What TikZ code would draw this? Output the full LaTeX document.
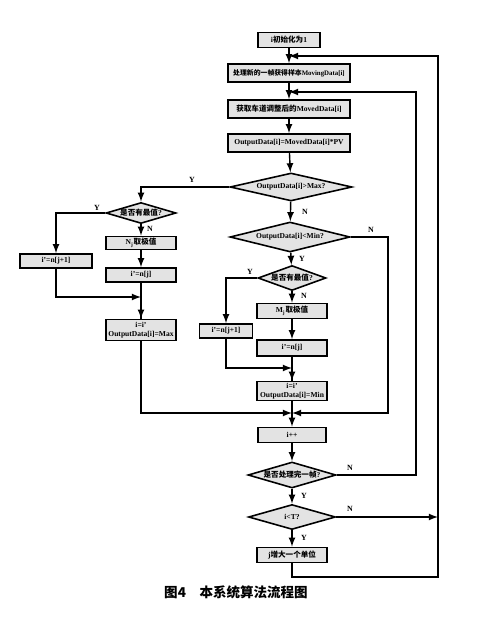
\documentclass[tikz,border=0pt]{standalone}
\usepackage{fontspec}
\setmainfont{Liberation Serif}
\newfontfamily\cjk{Noto Sans CJK SC}
\usetikzlibrary{arrows,shapes.geometric,positioning,calc}

\begin{document}
\begin{tikzpicture}[x=0.02cm,y=-0.02cm,>=latex]
	\tikzset{
		box/.style 2 args={
				draw,
				line width=0.9pt,
				fill=gray!22,
				inner sep=0pt,
				align=center,
				font=\fontsize{4.3}{4.8}\selectfont\bfseries,
				minimum width=#1*0.02cm,
				minimum height=#2*0.02cm
			},
		decision/.style 2 args={
				box={#1}{#2},
				diamond,
				/utils/exec={\pgfmathsetmacro\dmaspect{#1/#2}},
				shape aspect=\dmaspect
			},
		lbl/.style={font=\fontsize{4.5}{5}\selectfont\bfseries, inner sep=0pt},
		flow/.style={line width=0.8pt}
	}
	\useasboundingbox (0,0) rectangle (502,621);
	\node[box={62}{15}] (init) at (289,40) {i{\cjk 初始化为}1};
	\node[box={122}{18},font=\fontsize{3.9}{4.4}\selectfont\bfseries] (move) at (289,73) {{\cjk 处理新的一帧获得样本}MovingData[i]};
	\node[box={122}{18}] (moved) at (289,109) {{\cjk 获取车道调整后的}MovedData[i]};
	\node[box={122}{18}] (out) at (289,143) {OutputData[i]=MovedData[i]*PV};
	\node[decision={122}{28}] (dmax) at (291,187) {OutputData[i]>Max?};
	\node[decision={120}{30}] (dmin) at (290,237) {OutputData[i]<Min?};
	\node[decision={70}{21}] (lq) at (141,213) {{\cjk 是否有最值}?};
	\node[box={70}{13}] (lnj) at (141,243) {N\textsubscript{j}{\cjk 取极值}};
	\node[box={72}{14}] (lj1) at (56,261) {i'=n[j+1]};
	\node[box={70}{14}] (lj) at (141,275) {i'=n[j]};
	\node[box={70}{21}] (lmax) at (141,330) {i=i'\\OutputData[i]=Max};
	\node[decision={68}{25}] (mq) at (292,278) {{\cjk 是否有最值}?};
	\node[box={70}{15}] (mmj) at (292,311) {M\textsubscript{j}{\cjk 取极值}};
	\node[box={53}{14}] (mj1) at (226,331) {i'=n[j+1]};
	\node[box={70}{16}] (mj) at (292,348) {i'=n[j]};
	\node[box={70}{19}] (mmin) at (292,391) {i=i'\\OutputData[i]=Min};
	\node[box={68}{15}] (inc) at (292,435) {i++};
	\node[decision={88}{26}] (dfr) at (292,475) {{\cjk 是否处理完一帧}?};
	\node[decision={87}{25}] (dT) at (292,517) {i<T?};
	\node[box={70}{15}] (jinc) at (292,555) {j{\cjk 增大一个单位}};
	\coordinate (back1) at (289,56);
	\coordinate (back2) at (289,92);
	\coordinate (joinl) at (141,297);
	\coordinate (joinm) at (292,368);
	\coordinate (joinb) at (292,413);
	\draw[flow,->] (init) -- (move);
	\draw[flow,->] (move) -- (moved);
	\draw[flow,->] (moved) -- (out);
	\draw[flow,->] (out) -- (dmax);
	\draw[flow,->] (dmax) -- (dmin);
	\draw[flow,->] (dmax.west) -| (lq.north);
	\draw[flow,->] (lq.west) -| (lj1.north);
	\draw[flow,->] (lq) -- (lnj);
	\draw[flow,->] (lnj) -- (lj);
	\draw[flow] (lj) -- (lmax);
	\draw[flow,->] (lj1.south) |- (joinl);
	\draw[flow,->] (joinl) -- (lmax);
	\draw[flow,->] (dmin) -- (mq);
	\draw[flow,->] (mq.west) -| (mj1.north);
	\draw[flow,->] (mq) -- (mmj);
	\draw[flow,->] (mmj) -- (mj);
	\draw[flow] (mj) -- (mmin);
	\draw[flow,->] (mj1.south) |- (joinm);
	\draw[flow,->] (joinm) -- (mmin);
	\draw[flow,->] (lmax.south) |- (joinb);
	\draw[flow,->] (dmin.east) -| (388,413) -- (joinb);
	\draw[flow,->] (mmin) -- (inc);
	\draw[flow,->] (inc) -- (dfr);
	\draw[flow,->] (dfr) -- (dT);
	\draw[flow,->] (dT) -- (jinc);
	\draw[flow,->] (dfr.east) -| (416,92) -- (back2);
	\draw[flow,->] (dT.east) -- (438,517);
	\draw[flow,->] (jinc.south) |- (438,577) |- (back1);
	\node[lbl] (ly1) at (192,180) {Y};
	\node[lbl] (ln1) at (305,212) {N};
	\node[lbl] (ln2) at (371,230) {N};
	\node[lbl] (ly2) at (302,259) {Y};
	\node[lbl] (ly3) at (97,208) {Y};
	\node[lbl] (ln3) at (150,229) {N};
	\node[lbl] (ly4) at (250,272) {Y};
	\node[lbl] (ln4) at (304,296) {N};
	\node[lbl] (ln5) at (350,468) {N};
	\node[lbl] (ly5) at (304,496) {Y};
	\node[lbl] (ln6) at (350,509) {N};
	\node[lbl] (ly6) at (304,538) {Y};
	\node[font=\fontsize{7.7}{9}\selectfont\bfseries\cjk] (cap) at (236,592) {图4\quad 本系统算法流程图};
\end{tikzpicture}
\end{document}
